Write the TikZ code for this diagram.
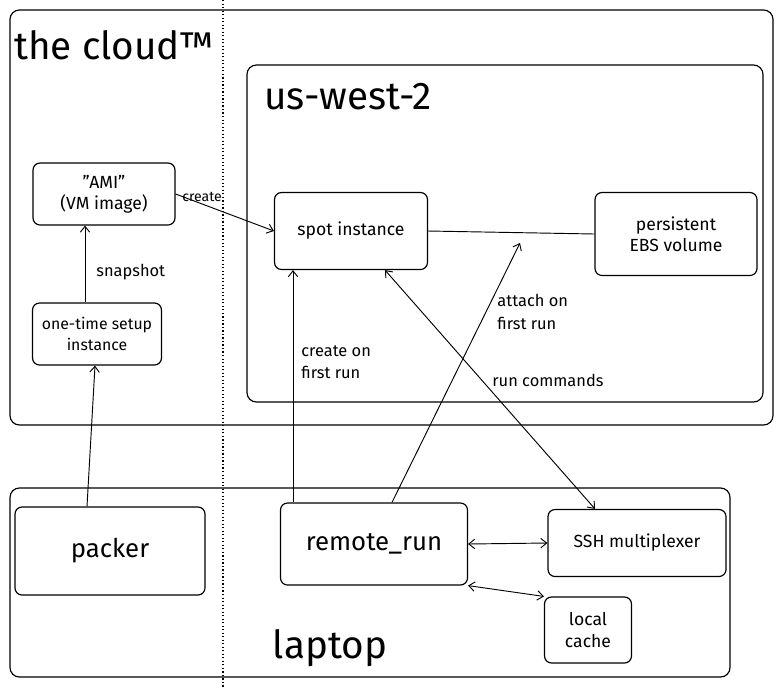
\documentclass[tikz,border=0pt]{standalone}
\usepackage{fontspec}
\setmainfont{Fira Sans}
\usetikzlibrary{arrows.meta}
\begin{document}
\begin{tikzpicture}[x=0.03cm,y=-0.03cm,
  box/.style={draw,rounded corners=8pt,line width=1pt},
  nb/.style={draw,rounded corners=6pt,line width=1pt,align=center,font=\fontsize{15}{18}\selectfont,inner sep=1pt},
  arr/.style={-{Straight Barb[length=5pt,width=8pt]},line width=0.8pt},
  darr/.style={{Straight Barb[length=5pt,width=8pt]}-{Straight Barb[length=5pt,width=8pt]},line width=0.8pt},
  lbl/.style={font=\fontsize{14}{19}\selectfont,align=left,anchor=west,inner sep=1pt},
  ttl/.style={font=\fontsize{33}{36}\selectfont}]
\useasboundingbox (0,0) rectangle (783,687);
\draw[box] (10,10) rectangle (773,425);
\draw[box] (247,65) rectangle (763,402);
\draw[box] (10,488) rectangle (730,677);
\draw[dotted,line width=1pt] (223,0) -- (223,687);
\node[anchor=west,ttl] (t1) at (10,45) {the cloud™};
\node[anchor=west,ttl] (t2) at (260,97) {us-west-2};
\node[ttl] (t3) at (330,648) {laptop};
\node[nb,minimum width=142*0.03cm,minimum height=62*0.03cm] (ami) at (104,194) {\symbol{34}AMI\symbol{34}\\(VM image)};
\node[nb,minimum width=129*0.03cm,minimum height=62*0.03cm,font=\fontsize{13.5}{18}\selectfont] (setup) at (97,334) {one-time setup\\instance};
\node[nb,minimum width=153*0.03cm,minimum height=77*0.03cm] (spot) at (351,231) {spot instance};
\node[nb,minimum width=162*0.03cm,minimum height=83*0.03cm] (ebs) at (676,234) {persistent\\EBS volume};
\node[nb,minimum width=190*0.03cm,minimum height=88*0.03cm,font=\fontsize{22}{26}\selectfont] (packer) at (110,551) {packer};
\node[nb,minimum width=187*0.03cm,minimum height=82*0.03cm,font=\fontsize{22}{26}\selectfont] (rr) at (374,544) {remote\_run};
\node[nb,minimum width=178*0.03cm,minimum height=67*0.03cm] (ssh) at (637,543) {SSH multiplexer};
\node[nb,minimum width=87*0.03cm,minimum height=66*0.03cm] (cache) at (588,630) {local\\cache};
\coordinate (att) at (520,243);
\draw[arr] (setup.north -| 85,0) -- (ami.south -| 85,0);
\node[lbl] (l1) at (95,272) {snapshot};
\draw[arr] (packer.north -| 87,0) -- (setup.south -| 95,0);
\draw[arr] (ami.east) -- (spot.west);
\node[lbl,font=\fontsize{12}{14}\selectfont] (l2) at (181,197) {create};
\draw[arr] (rr.north -| 293,0) -- (spot.south -| 293,0);
\node[lbl] (l3) at (300,362) {create on\\first run};
\draw[line width=0.8pt] (spot.east) -- (ebs.west);
\draw[arr] (rr.north -| 392,0) -- (att);
\node[lbl] (l4) at (496,312) {attach on\\first run};
\draw[darr] (spot.south -| 385,0) -- (ssh.north -| 595,0);
\node[lbl] (l5) at (491,380) {run commands};
\draw[darr] (rr.east) -- (ssh.west);
\draw[darr] (rr.south east) -- (cache.north west);
\end{tikzpicture}
\end{document}
